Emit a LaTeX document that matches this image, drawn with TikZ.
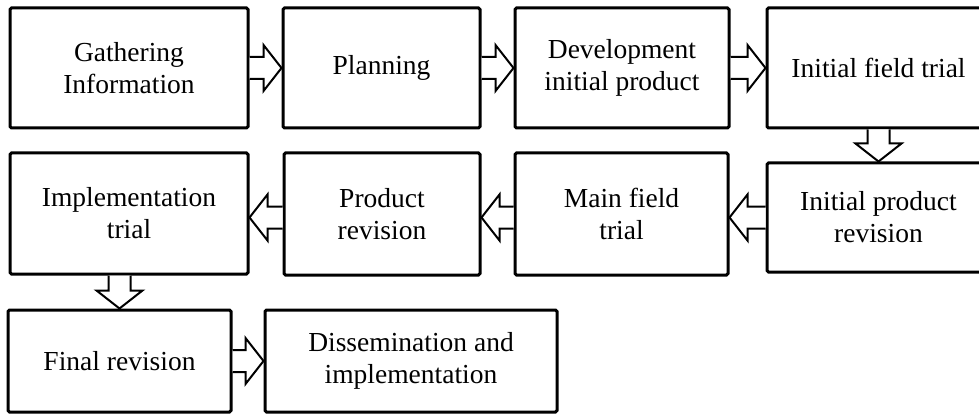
\documentclass[tikz,border=0pt]{standalone}
\usepackage{fontspec}
\setmainfont{Liberation Serif}
\usetikzlibrary{calc}

% hollow block arrow from #1 (shaft end) to #2 (tip)
\newcommand{\hollowarrow}[2]{%
  \coordinate (hbase) at ($(#2)!18pt!(#1)$);
  \draw[hollow] ($(#1)!11pt!90:(#2)$) -- ($(hbase)!11pt!90:(#2)$)
    -- ($(hbase)!23pt!90:(#2)$) -- (#2) -- ($(hbase)!23pt!-90:(#2)$)
    -- ($(hbase)!11pt!-90:(#2)$) -- ($(#1)!11pt!-90:(#2)$);
}

\begin{document}
\begin{tikzpicture}[x=1pt, y=-1pt,
    stage/.style={draw, line width=3pt, rounded corners=1.5pt, fill=white,
      align=center, inner sep=0pt, font=\fontsize{27.5}{32}\selectfont},
    hollow/.style={draw, line width=2pt, fill=white, line join=miter}]
	\clip (0,0) rectangle (979,414);

	% Draw the first row of boxes
	\node[stage, minimum width=238, minimum height=120] (gi) at (129,68) {Gathering\\Information};
	\node[stage, minimum width=197, minimum height=120] (pl) at (381.5,68) {Planning};
	\node[stage, minimum width=214, minimum height=120] (dip) at (622,68) {Development\\initial product};
	\node[stage, minimum width=223, minimum height=120] (ift) at (878.5,68) {Initial field trial};

	% Draw the second row of boxes
	\node[stage, minimum width=223, minimum height=109] (ipr) at (878.5,217.5) {Initial product\\revision};
	\node[stage, minimum width=213, minimum height=122] (mft) at (621.5,214) {Main field\\trial};
	\node[stage, minimum width=196, minimum height=122] (pr) at (382,214) {Product\\revision};
	\node[stage, minimum width=238, minimum height=121] (it) at (129,213.5) {Implementation\\trial};

	% Draw the third row of boxes
	\node[stage, minimum width=223, minimum height=102] (fr) at (119.5,361) {Final revision};
	\node[stage, minimum width=292, minimum height=102] (di) at (411,361) {Dissemination and\\implementation};

	% Draw the arrows between the boxes
	\hollowarrow{gi.east}{pl.west}
	\hollowarrow{pl.east}{dip.west}
	\hollowarrow{dip.east}{ift.west}
	\hollowarrow{ift.south}{ipr.north}
	\hollowarrow{ipr.west}{mft.east |- ipr.west}
	\hollowarrow{mft.west |- ipr.west}{pr.east |- ipr.west}
	\hollowarrow{pr.west |- ipr.west}{it.east |- ipr.west}
	\hollowarrow{fr.north |- it.south}{fr.north}
	\hollowarrow{fr.east}{di.west}

\end{tikzpicture}
\end{document}
